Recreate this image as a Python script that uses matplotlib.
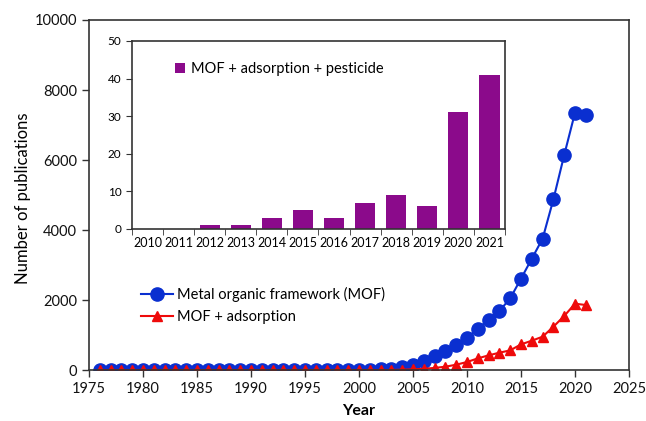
import matplotlib
matplotlib.use("Agg")
import matplotlib.pyplot as plt
import numpy as np

plt.rcParams['font.family'] = ['Lato', 'DejaVu Sans']

years = list(range(1976, 2022))
mof = [0]*25 + [10, 20, 40, 80, 143, 257, 390, 543, 714, 914,
                1181, 1438, 1686, 2048, 2610, 3181, 3752, 4876, 6143, 7352, 7290]
mof_ads = [0]*28 + [10, 20, 35, 60, 95, 152, 229, 333, 419, 495,
                    562, 733, 838, 952, 1238, 1543, 1895, 1857]

inset_years = ['2010', '2011', '2012', '2013', '2014', '2015', '2016',
               '2017', '2018', '2019', '2020', '2021']
pesticide = [0, 0, 1, 1, 3, 5, 3, 7, 9, 6, 31, 41]

blue = '#0a2fd0'
red = '#ee0a0a'
purple = '#8b0a8b'
spine_c = '#333333'

fig = plt.figure(figsize=(6.46, 4.21), dpi=100)
ax = fig.add_axes([0.1378, 0.1211, 0.8359, 0.8314])
ax.plot(years, mof, '-o', color=blue, markersize=9.5, linewidth=1.5,
        label='Metal organic framework (MOF)')
ax.plot(years, mof_ads, '-^', color=red, markersize=7.5, linewidth=1.5,
        label='MOF + adsorption')
ax.set_xlim(1975, 2025)
ax.set_ylim(0, 10000)
ax.set_xticks(range(1975, 2026, 5))
ax.set_yticks(range(0, 10001, 2000))
ax.tick_params(direction='out', length=5, width=1, labelsize=10.5, colors=spine_c,
               labelcolor='#111111')
for s in ax.spines.values():
    s.set_color(spine_c)
    s.set_linewidth(1.2)
ax.set_xlabel('Year', fontsize=11.5, fontweight='bold', labelpad=6)
ax.set_ylabel('Number of publications', fontsize=12)
ax.yaxis.set_label_coords(-0.108, 0.49)
ax.legend(loc='upper left', bbox_to_anchor=(0.085, 0.255), frameon=False,
          fontsize=10.5, handlelength=2.2, handletextpad=0.3, labelspacing=0.6,
          borderaxespad=0)

ins = fig.add_axes([0.2043, 0.4561, 0.5774, 0.4466])
x = np.arange(len(inset_years))
ins.bar(x, pesticide, width=0.65, color=purple, label='MOF + adsorption + pesticide')
ins.set_xlim(-0.5, len(inset_years) - 0.5)
ins.set_ylim(0, 50)
ins.set_yticks(range(0, 51, 10))
ins.set_xticks(x)
ins.set_xticklabels(inset_years)
ins.set_xticks(np.arange(-0.5, len(inset_years)), minor=True)
ins.tick_params(axis='x', which='major', length=0, labelsize=9, pad=6)
ins.tick_params(axis='x', which='minor', length=4, direction='out', color=spine_c)
ins.tick_params(axis='y', length=4, direction='out', labelsize=8.5, color=spine_c)
for s in ins.spines.values():
    s.set_color(spine_c)
    s.set_linewidth(1.2)
ins.legend(loc='upper left', bbox_to_anchor=(0.1, 0.92), frameon=False,
           fontsize=10.5, handlelength=0.7, handleheight=0.7, handletextpad=0.4,
           borderaxespad=0)

fig.savefig('out.png', dpi=100)
